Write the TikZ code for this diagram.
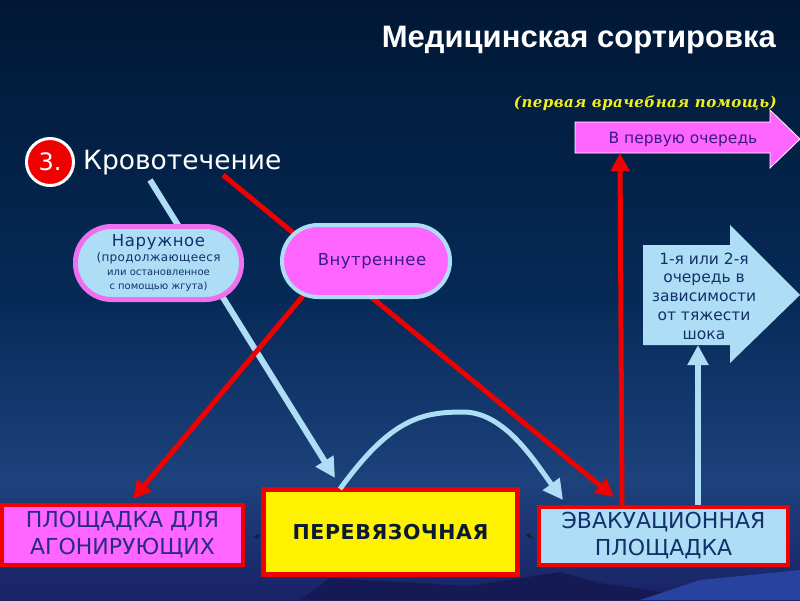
\documentclass[tikz,border=0pt]{standalone}
\usepackage{fontspec}
\setmainfont{DejaVu Sans}
\newfontfamily\titlefont{Liberation Sans}
\newfontfamily\subfont[LetterSpace=3]{DejaVu Serif}
\newfontfamily\spacedfont[LetterSpace=3]{DejaVu Sans}
\newfontfamily\widefont[LetterSpace=4]{DejaVu Sans}
\usetikzlibrary{arrows.meta,calc}
\pgfdeclarelayer{back}
\pgfdeclarelayer{edges}
\pgfsetlayers{back,edges,main}
\definecolor{bgA}{HTML}{011834}
\definecolor{bgB}{HTML}{062A58}
\definecolor{bgC}{HTML}{1D427C}
\definecolor{bgD}{HTML}{1A2266}
\definecolor{mtA}{HTML}{161A54}
\definecolor{mtB}{HTML}{2842A0}
\definecolor{pinkf}{HTML}{FF66FF}
\definecolor{lblue}{HTML}{AEDDF6}
\definecolor{magb}{HTML}{EE70EE}
\definecolor{redc}{HTML}{F00000}
\definecolor{navyt}{HTML}{14306A}
\definecolor{indigot}{HTML}{2A2A80}
\definecolor{purplet}{HTML}{3A1A80}
\definecolor{darkt}{HTML}{0A1A30}
\definecolor{subyel}{HTML}{F0F020}
\definecolor{tinyarr}{HTML}{141E3C}
\begin{document}
\begin{tikzpicture}[x=1pt,y=-1pt,
  redline/.style={draw=redc,line width=5pt,-{Triangle[length=18pt,width=18pt]}},
  blueline/.style={draw=lblue,line width=6pt,-{Triangle[length=20pt,width=20pt]}},
  oval/.style={rounded corners=36pt,minimum height=72pt,align=center,inner sep=0pt},
  redbox/.style={rectangle,draw=redc,align=center,inner sep=0pt},
  boxtext/.style={font=\fontsize{22}{27}\selectfont},
]
\useasboundingbox (0,0) rectangle (800,600);
\begin{pgfonlayer}{back}
\shade[top color=bgA,bottom color=bgB] (0,0) rectangle (800,300.5);
\shade[top color=bgB,bottom color=bgC] (0,300) rectangle (800,480.5);
\shade[top color=bgC,bottom color=bgD] (0,480) rectangle (800,600);
\fill[mtA] (300,600) -- (330,578) -- (470,586) -- (560,572) -- (600,583) -- (720,600) -- cycle;
\fill[mtB] (640,600) -- (700,580) -- (800,570) -- (800,600) -- cycle;
\end{pgfonlayer}

% title texts
\node[anchor=east,text=white,font=\titlefont\bfseries\fontsize{31}{31}\selectfont,inner sep=0pt] (title) at (776,40) {Медицинская сортировка};
\node[anchor=east,text=subyel,font=\subfont\bfseries\itshape\fontsize{15}{15}\selectfont,inner sep=0pt] (sub) at (777,103) {(первая врачебная помощь)};

\node[circle,fill=redc,draw=white,line width=3pt,minimum size=47pt,inner sep=0pt,text=white,font=\fontsize{24}{24}\selectfont] (num) at (50,162) {3.};
\node[anchor=west,text=white,font=\fontsize{26.5}{26.5}\selectfont,inner sep=0pt] (krov) at (83,163) {Кровотечение};

% arrow shapes on the right
\fill[pinkf,draw=white,line width=0.8pt] (575,122) -- (770,122) -- (770,110) -- (800,139) -- (770,168) -- (770,153) -- (575,153) -- cycle;
\node[text=purplet,font=\fontsize{15.5}{15.5}\selectfont,inner sep=0pt] (first) at (683,139) {В первую очередь};
\fill[lblue] (643,245) -- (730,245) -- (730,225) -- (800,295) -- (730,363) -- (730,345) -- (643,345) -- cycle;
\node[text=navyt,align=center,font=\fontsize{15.5}{18.7}\selectfont,inner sep=0pt] (queue) at (704,296) {1-я или 2-я\\очередь в\\зависимости\\от тяжести\\шока};
\coordinate (pinkbot) at (620,153);
\coordinate (bluebot) at (698,345);

% ovals
\node[oval,fill=lblue,draw=magb,line width=5pt,minimum width=166pt,minimum height=73pt,text=navyt] (nar) at (158.5,263)
  {\widefont\fontsize{16.5}{17}\selectfont Наружное\\[1pt]\spacedfont\fontsize{12}{15}\selectfont (продолжающееся\\[2pt]или остановленное\\[2pt]с помощью жгута)};
\node[oval,fill=pinkf,draw=lblue,line width=4pt,minimum width=168pt,text=purplet,font=\spacedfont\fontsize{16.5}{16.5}\selectfont] (vnut) at (366,261) {\hspace*{12pt}Внутреннее};

% bottom boxes
\node[redbox,fill=pinkf,line width=4pt,minimum width=241pt,minimum height=60pt,text=indigot,boxtext] (agon) at (122.5,535) {ПЛОЩАДКА ДЛЯ\\АГОНИРУЮЩИХ};
\node[redbox,fill=yellow,line width=5pt,minimum width=254pt,minimum height=85pt,text=darkt,font=\spacedfont\bfseries\fontsize{20.5}{20.5}\selectfont] (perev) at (390.5,532) {ПЕРЕВЯЗОЧНАЯ};
\node[redbox,fill=lblue,line width=4pt,minimum width=249pt,minimum height=58pt,text=navyt,boxtext] (evac) at (663.5,536) {ЭВАКУАЦИОННАЯ\\ПЛОЩАДКА};

% connectors
\coordinate (bstart) at (150,180);
\coordinate (rstart) at (223,175);
\coordinate (vmid) at (318,278);
\begin{pgfonlayer}{edges}
\draw[blueline] (bstart) -- ($(perev.north west)+(74,-9)$);
\draw[redline] (rstart) -- ($(evac.north west)+(77,-8)$);
\draw[redline] (vmid) -- ($(agon.north west)+(133,-4)$);
\end{pgfonlayer}
\draw[redline] ($(evac.north west)+(85,0)$) -- (pinkbot);
\draw[blueline] ($(evac.north west)+(161,0)$) -- (bluebot);
\draw[blueline,line width=5pt] ($(perev.north west)+(79,2)$) .. controls (390,420) and (420,412) .. (463,412) .. controls (505,412) and (535,462) .. ($(evac.north west)+(26,-5)$);
\draw[tinyarr,line width=1.2pt,-{Stealth[length=5pt,width=5pt]}] ($(perev.west)+(-1,3)$) -- ($(agon.east)+(9,3)$);
\draw[tinyarr,line width=1.2pt,-{Stealth[length=5pt,width=5pt]}] ($(evac.west)+(-4,2)$) -- ($(perev.east)+(6,2)$);
\end{tikzpicture}
\end{document}
